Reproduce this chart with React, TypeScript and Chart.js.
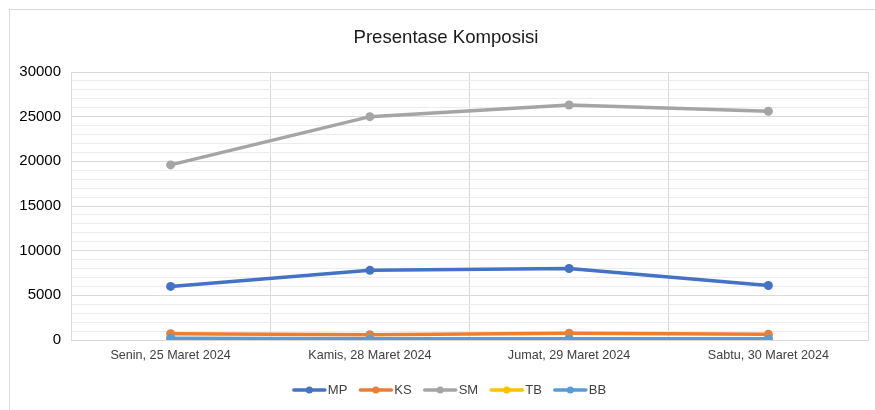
import React, { useEffect, useRef } from "react";
import { Chart, registerables } from "chart.js";

Chart.register(...registerables);

const categories = [
  "Senin, 25 Maret 2024",
  "Kamis, 28 Maret 2024",
  "Jumat, 29 Maret 2024",
  "Sabtu, 30 Maret 2024",
];
const seriesNames = ["MP", "KS", "SM", "TB", "BB"];
const mpValues = [6000, 7800, 8000, 6100];
const ksValues = [700, 600, 750, 650];
const smValues = [19600, 25000, 26300, 25600];
const tbValues = [150, 150, 150, 150];
const bbValues = [200, 150, 150, 150];
const seriesColors = ["#4472C4", "#ED7D31", "#A5A5A5", "#FFC000", "#5B9BD5"];
const titleText = "Presentase Komposisi";
const yMax = 30000;
const yMinorStep = 1000;
const yMajorStep = 5000;

const FONT = "'Liberation Sans', Arial, sans-serif";

const titleAndLegend = {
  id: "titleAndLegend",
  afterDraw(chart: any) {
    const ctx = chart.ctx as CanvasRenderingContext2D;
    ctx.save();
    ctx.fillStyle = "#1a1a1a";
    ctx.font = `18.6px ${FONT}`;
    ctx.textAlign = "center";
    ctx.textBaseline = "middle";
    ctx.fillText(titleText, 446, 38);

    ctx.font = `13px ${FONT}`;
    ctx.textAlign = "left";
    const lineLen = 33;
    const gap = 2;
    const spacing = 12;
    const items = chart.data.datasets.map((d: any) => ({
      label: d.label,
      color: d.borderColor,
      w: ctx.measureText(d.label).width,
    }));
    const total = items.reduce((s: number, it: any) => s + lineLen + gap + it.w, 0) + spacing * (items.length - 1);
    let x = 449.5 - total / 2;
    const y = 390;
    for (const it of items) {
      ctx.strokeStyle = it.color;
      ctx.lineWidth = 3.5;
      ctx.lineCap = "round";
      ctx.beginPath();
      ctx.moveTo(x + 1, y);
      ctx.lineTo(x + lineLen - 1, y);
      ctx.stroke();
      ctx.fillStyle = it.color;
      ctx.beginPath();
      ctx.arc(x + lineLen / 2, y, 3.5, 0, Math.PI * 2);
      ctx.fill();
      ctx.fillStyle = "#404040";
      ctx.fillText(it.label, x + lineLen + gap, y);
      x += lineLen + gap + it.w + spacing;
    }
    ctx.restore();
  },
};

export default function App() {
  const ref = useRef<HTMLCanvasElement>(null);
  useEffect(() => {
    const valueLists = [mpValues, ksValues, smValues, tbValues, bbValues];
    const chart = new Chart(ref.current!, {
      type: "line",
      data: {
        labels: categories,
        datasets: seriesNames.map((name, i) => ({
          label: name,
          data: valueLists[i],
          borderColor: seriesColors[i],
          backgroundColor: seriesColors[i],
          borderWidth: 3.5,
          pointRadius: 4.5,
          pointHoverRadius: 4.5,
          pointBorderWidth: 0,
          tension: 0,
          order: seriesNames.length - i,
        })),
      },
      options: {
        animation: false,
        responsive: false,
        maintainAspectRatio: false,
        layout: { padding: { left: 0, right: 7, top: 72, bottom: 0 } },
        plugins: {
          legend: { display: false },
          title: { display: false },
          tooltip: { enabled: false },
        },
        scales: {
          x: {
            offset: true,
            grid: { offset: true, color: "#d9d9d9", lineWidth: 1, drawTicks: false },
            border: { color: "#d9d9d9" },
            ticks: {
              color: "#404040",
              font: { family: FONT, size: 12.6 },
              padding: 8,
              maxRotation: 0,
              autoSkip: false,
            },
            afterFit(scale: any) {
              scale.height = 70;
            },
          },
          y: {
            min: 0,
            max: yMax,
            grid: {
              color: (c: any) =>
                c.tick && c.tick.value % yMajorStep === 0 ? "#d9d9d9" : "#ececec",
              lineWidth: 1,
              drawTicks: false,
            },
            border: { color: "#d9d9d9" },
            ticks: {
              stepSize: yMinorStep,
              autoSkip: false,
              color: "#000000",
              font: { family: FONT, size: 15 },
              padding: 10,
              callback: (v: any) => (Number(v) % yMajorStep === 0 ? String(v) : ""),
            },
            afterFit(scale: any) {
              scale.width = 71;
            },
          },
        },
      },
      plugins: [titleAndLegend],
    });
    return () => chart.destroy();
  }, []);
  return (
    <div style={{ position: "absolute", left: 0, top: 0, width: 875, height: 410, background: "#fff" }}>
      <div
        style={{
          position: "absolute",
          left: 9,
          top: 9,
          right: 0,
          bottom: 0,
          borderTop: "1px solid #d9d9d9",
          borderLeft: "1px solid #d9d9d9",
        }}
      />
      <canvas ref={ref} width={875} height={410} style={{ position: "absolute", left: 0, top: 0 }} />
    </div>
  );
}
